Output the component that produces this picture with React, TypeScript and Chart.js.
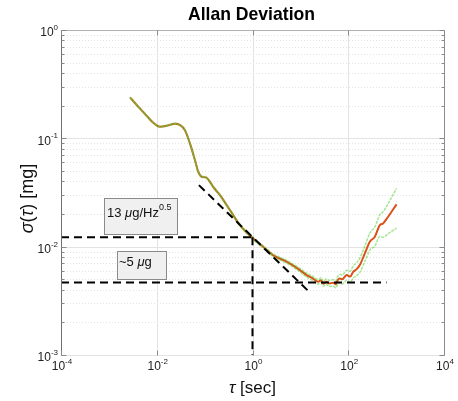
import React, { useEffect, useRef } from "react";
import { Chart, registerables } from "chart.js";

Chart.register(...registerables);

// Averaging time τ [s] and Allan deviation σ(τ) [mg]
const tau = [
  0.00276, 0.0041, 0.0062, 0.0085, 0.0117, 0.0161, 0.024, 0.0305, 0.0388, 0.0493,
  0.0627, 0.0734, 0.0865, 0.106, 0.129, 0.151, 0.209, 0.337, 0.546, 1.03,
  1.67, 2.67, 5.15, 9.77, 13.5, 18, 23.5, 27, 30, 35.2,
  40, 48.4, 55, 60, 66.8, 75, 92.2, 110, 126.6, 150,
  174.6, 222, 282, 359, 457, 535, 681, 1019,
];
const adev = [
  0.239, 0.196, 0.161, 0.139, 0.128, 0.1306, 0.1364, 0.1327, 0.119, 0.0899,
  0.0631, 0.0492, 0.0442, 0.0436, 0.0397, 0.0357, 0.0299, 0.0218, 0.0158, 0.0119,
  0.00997, 0.00836, 0.00726, 0.00608, 0.00547, 0.0051, 0.00474, 0.0049, 0.00455, 0.00475,
  0.00458, 0.00464, 0.0045, 0.0049, 0.00509, 0.005, 0.00547, 0.0053, 0.00586, 0.0062,
  0.00676, 0.00867, 0.0111, 0.01233, 0.0158, 0.0164, 0.0189, 0.0246,
];
// Confidence bounds of σ(τ)
const adevUpper = [
  0.241, 0.198, 0.163, 0.14, 0.129, 0.1318, 0.1378, 0.1341, 0.1203, 0.091,
  0.0639, 0.0499, 0.0448, 0.0442, 0.0403, 0.0363, 0.0304, 0.0222, 0.0161, 0.0122,
  0.0102, 0.00858, 0.00748, 0.0063, 0.0057, 0.00533, 0.00497, 0.00516, 0.0048, 0.00503,
  0.00487, 0.00496, 0.00484, 0.0053, 0.00553, 0.00548, 0.00605, 0.00593, 0.00665, 0.0071,
  0.00785, 0.0101, 0.01335, 0.0152, 0.0198, 0.021, 0.025, 0.0345,
];
const adevLower = [
  0.237, 0.194, 0.159, 0.138, 0.127, 0.1294, 0.135, 0.1313, 0.1177, 0.0888,
  0.0623, 0.0485, 0.0436, 0.043, 0.0391, 0.0351, 0.0294, 0.0214, 0.0155, 0.0116,
  0.00972, 0.00814, 0.00704, 0.00586, 0.00524, 0.00487, 0.00451, 0.00464, 0.0043, 0.00447,
  0.00429, 0.00432, 0.00416, 0.0045, 0.00465, 0.00452, 0.00489, 0.0047, 0.00515, 0.0054,
  0.0058, 0.0073, 0.0093, 0.0101, 0.0124, 0.0122, 0.0132, 0.0148,
];

// Reference lines: noise density read at τ = 1 s, bias instability floor, -1/2 slope fit
const arwTau = [1e-4, 1];
const arwSigma = [0.0122, 0.0122];
const arwDropTau = [1, 1];
const arwDropSigma = [0.0122, 1e-3];
const biasTau = [1e-4, 630];
const biasSigma = [0.00468, 0.00468];
const slopeTau = [0.076, 14.6];
const slopeSigma = [0.037, 0.0039];

// Axes
const xTicks = [1e-4, 1e-2, 1, 1e2, 1e4];
const xTickExp = ["-4", "-2", "0", "2", "4"];
const yTicks = [1e-3, 1e-2, 1e-1, 1];
const yTickExp = ["-3", "-2", "-1", "0"];
const yMinorTicks = [2, 3, 4, 5, 6, 7, 8, 9].flatMap((m) => [m * 1e-3, m * 1e-2, m * 1e-1]);

const TITLE = "Allan Deviation";
const SANS = "'Liberation Sans', Arial, sans-serif";

const pts = (xs: number[], ys: number[]) => xs.map((x, i) => ({ x, y: ys[i] }));

type Run = { t: string; italic?: boolean; sup?: boolean };

function drawRuns(ctx: CanvasRenderingContext2D, runs: Run[], x: number, y: number, size: number, align: "left" | "center" | "right") {
  const fontFor = (r: Run) => `${r.italic ? "italic " : ""}${r.sup ? Math.round(size * 0.7) : size}px ${SANS}`;
  let total = 0;
  const widths = runs.map((r) => {
    ctx.font = fontFor(r);
    const w = ctx.measureText(r.t).width;
    total += w;
    return w;
  });
  let cx = align === "left" ? x : align === "center" ? x - total / 2 : x - total;
  ctx.textAlign = "left";
  ctx.textBaseline = "middle";
  runs.forEach((r, i) => {
    ctx.font = fontFor(r);
    ctx.fillText(r.t, cx, r.sup ? y - size * 0.42 : y);
    cx += widths[i];
  });
}

const decor = {
  id: "adevDecor",
  beforeDatasetsDraw(chart: any) {
    const { ctx, chartArea: a, scales } = chart;
    const xs = scales.x;
    const ys = scales.y;
    ctx.save();
    ctx.lineWidth = 1;
    // minor y grid
    ctx.strokeStyle = "#e4e4e4";
    ctx.setLineDash([1, 2]);
    for (const v of yMinorTicks) {
      const py = Math.round(ys.getPixelForValue(v)) + 0.5;
      ctx.beginPath();
      ctx.moveTo(a.left, py);
      ctx.lineTo(a.right, py);
      ctx.stroke();
    }
    ctx.setLineDash([]);
    // major grid
    ctx.strokeStyle = "#e3e3e3";
    for (const v of yTicks) {
      const py = Math.round(ys.getPixelForValue(v)) + 0.5;
      ctx.beginPath();
      ctx.moveTo(a.left, py);
      ctx.lineTo(a.right, py);
      ctx.stroke();
    }
    for (const v of xTicks) {
      const px = Math.round(xs.getPixelForValue(v)) + 0.5;
      ctx.beginPath();
      ctx.moveTo(px, a.top);
      ctx.lineTo(px, a.bottom);
      ctx.stroke();
    }
    ctx.restore();
  },
  afterDatasetsDraw(chart: any) {
    const { ctx, chartArea: a, scales } = chart;
    const xs = scales.x;
    const ys = scales.y;
    ctx.save();
    const L = Math.round(a.left) + 0.5;
    const R = Math.round(a.right) + 0.5;
    const T = Math.round(a.top) + 0.5;
    const B = Math.round(a.bottom) + 0.5;
    // frame
    ctx.lineWidth = 1;
    ctx.strokeStyle = "#b0b0b0";
    ctx.beginPath();
    ctx.moveTo(L, T);
    ctx.lineTo(R, T);
    ctx.stroke();
    ctx.strokeStyle = "#8c8c8c";
    ctx.beginPath();
    ctx.moveTo(R, T);
    ctx.lineTo(R, B);
    ctx.stroke();
    ctx.strokeStyle = "#707070";
    ctx.beginPath();
    ctx.moveTo(L, T);
    ctx.lineTo(L, B);
    ctx.stroke();
    // y ticks on both sides
    ctx.strokeStyle = "#8a8a8a";
    for (const v of yMinorTicks) {
      const py = Math.round(ys.getPixelForValue(v)) + 0.5;
      ctx.beginPath();
      ctx.moveTo(L, py);
      ctx.lineTo(L + 3, py);
      ctx.moveTo(R, py);
      ctx.lineTo(R - 3, py);
      ctx.stroke();
    }
    for (const v of yTicks) {
      const py = Math.round(ys.getPixelForValue(v)) + 0.5;
      ctx.beginPath();
      ctx.moveTo(L, py);
      ctx.lineTo(L + 5, py);
      ctx.moveTo(R, py);
      ctx.lineTo(R - 5, py);
      ctx.stroke();
    }
    for (const v of xTicks) {
      const px = Math.round(xs.getPixelForValue(v)) + 0.5;
      ctx.beginPath();
      ctx.moveTo(px, B);
      ctx.lineTo(px, B - 5);
      ctx.moveTo(px, T);
      ctx.lineTo(px, T + 5);
      ctx.stroke();
    }

    // annotation boxes
    ctx.fillStyle = "#f0f0f0";
    ctx.strokeStyle = "#8a8a8a";
    const box1 = { l: a.left + 43, t: a.top + 168, w: 73, h: 36 };
    const box2 = { l: a.left + 56, t: a.top + 221, w: 49, h: 28 };
    for (const b of [box1, box2]) {
      ctx.fillRect(b.l, b.t, b.w, b.h);
      ctx.strokeRect(Math.round(b.l) + 0.5, Math.round(b.t) + 0.5, b.w, b.h);
    }
    ctx.fillStyle = "#111";
    drawRuns(
      ctx,
      [{ t: "13 " }, { t: "μ", italic: true }, { t: "g/Hz" }, { t: "0.5", sup: true }],
      box1.l + 3,
      box1.t + 15,
      13,
      "left"
    );
    drawRuns(ctx, [{ t: "~5 " }, { t: "μ", italic: true }, { t: "g" }], box2.l + 2, box2.t + 11, 13, "left");

    // tick labels
    ctx.fillStyle = "#222";
    yTicks.forEach((v, i) => {
      const py = ys.getPixelForValue(v) + 3;
      drawRuns(ctx, [{ t: "10" }, { t: yTickExp[i], sup: true }], a.left - 3, py, 12, "right");
    });
    xTicks.forEach((v, i) => {
      const px = xs.getPixelForValue(v) + 1;
      drawRuns(ctx, [{ t: "10" }, { t: xTickExp[i], sup: true }], px, a.bottom + 12, 12, "center");
    });

    // axis titles
    ctx.fillStyle = "#111";
    drawRuns(ctx, [{ t: "τ", italic: true }, { t: " [sec]" }], (a.left + a.right) / 2, a.bottom + 33, 17, "center");
    ctx.save();
    ctx.translate(a.left - 33, (a.top + a.bottom) / 2 + 6);
    ctx.rotate(-Math.PI / 2);
    drawRuns(ctx, [{ t: "σ", italic: true }, { t: "(" }, { t: "τ", italic: true }, { t: ") [mg]" }], 0, 0, 18, "center");
    ctx.restore();

    // title
    ctx.font = `bold 19px ${SANS}`;
    const tw = ctx.measureText(TITLE).width;
    const sx = Math.min(1, 127 / tw);
    ctx.save();
    ctx.translate((a.left + a.right) / 2 - 1, a.top - 15);
    ctx.scale(sx, 1);
    ctx.textAlign = "center";
    ctx.textBaseline = "middle";
    ctx.fillStyle = "#000";
    ctx.fillText(TITLE, 0, 0);
    ctx.restore();

    ctx.restore();
  },
};

export default function App() {
  const ref = useRef<HTMLCanvasElement | null>(null);

  useEffect(() => {
    if (!ref.current) return;
    const dashed = {
      borderColor: "#000",
      borderWidth: 2,
      borderDash: [8, 5],
      pointRadius: 0,
      fill: false,
      tension: 0,
    };
    const chart = new Chart(ref.current, {
      type: "line",
      data: {
        datasets: [
          { ...dashed, data: pts(arwTau, arwSigma), order: 0 },
          { ...dashed, data: pts(arwDropTau, arwDropSigma), order: 0 },
          { ...dashed, data: pts(biasTau, biasSigma), order: 0 },
          { ...dashed, data: pts(slopeTau, slopeSigma), order: 0 },
          {
            data: pts(tau, adevUpper),
            borderColor: "rgba(90,210,60,0.55)",
            borderWidth: 1.5,
            borderDash: [3, 1],
            pointRadius: 0,
            cubicInterpolationMode: "monotone",
            order: 1,
          },
          {
            data: pts(tau, adevLower),
            borderColor: "rgba(90,210,60,0.55)",
            borderWidth: 1.5,
            borderDash: [3, 1],
            pointRadius: 0,
            cubicInterpolationMode: "monotone",
            order: 1,
          },
          {
            data: pts(tau, adev),
            borderColor: "#D95319",
            borderWidth: 2,
            pointRadius: 0,
            cubicInterpolationMode: "monotone",
            order: 2,
          },
        ],
      },
      options: {
        animation: false,
        responsive: false,
        devicePixelRatio: 1,
        layout: { padding: { left: 61, right: 14, top: 30, bottom: 46 } },
        plugins: { legend: { display: false }, tooltip: { enabled: false }, title: { display: false } },
        scales: {
          x: { type: "logarithmic", min: 1e-4, max: 1e4, display: false },
          y: { type: "logarithmic", min: 1e-3, max: 1, display: false },
        },
      },
      plugins: [decor],
    } as any);
    return () => chart.destroy();
  }, []);

  return (
    <div style={{ position: "absolute", left: 0, top: 0, width: 458, height: 401, background: "#fff" }}>
      <canvas ref={ref} width={458} height={401} />
    </div>
  );
}
